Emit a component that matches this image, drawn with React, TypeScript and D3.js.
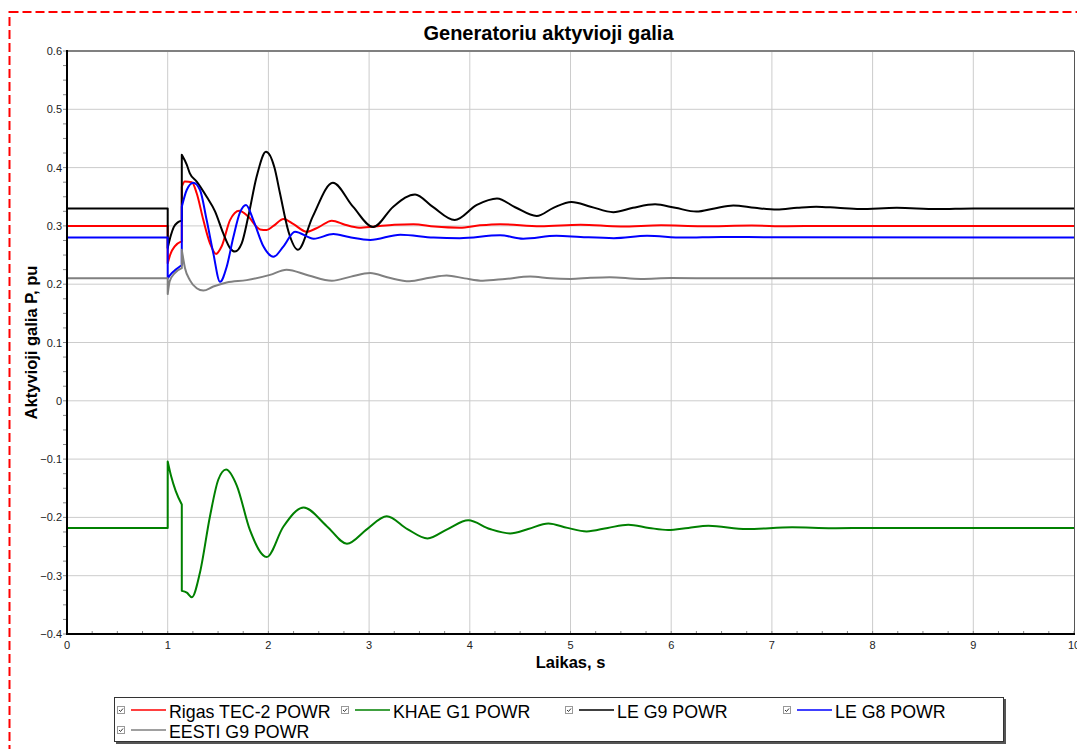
import { useEffect, useRef } from "react";
import * as d3 from "d3";

// [t, P] pairs; a repeated t means a vertical jump
const rigasTec2 = [
  [0, 0.3], [1, 0.3],
  [1, 0.236], [1.03, 0.253], [1.07, 0.265], [1.14, 0.274],
  [1.14, 0.367], [1.17, 0.376], [1.24, 0.375], [1.288, 0.356], [1.354, 0.31], [1.42, 0.27], [1.48, 0.252],
  [1.536, 0.265], [1.619, 0.31], [1.711, 0.326], [1.8, 0.316], [1.917, 0.294], [1.983, 0.293], [2.05, 0.3],
  [2.15, 0.312], [2.25, 0.303], [2.38, 0.29], [2.5, 0.298], [2.63, 0.309], [2.76, 0.302], [2.9, 0.297],
  [3.05, 0.299], [3.25, 0.302], [3.44, 0.303], [3.65, 0.299], [3.9, 0.297], [4.1, 0.301], [4.3, 0.303],
  [4.7, 0.2995], [5.1, 0.302], [5.5, 0.299], [5.9, 0.301], [6.3, 0.2995], [6.8, 0.3005], [7.15, 0.2995],
  [7.5, 0.3], [10, 0.3],
];

const khaeG1 = [
  [0, -0.218], [1, -0.218],
  [1, -0.104], [1.035, -0.13], [1.08, -0.155], [1.14, -0.178],
  [1.14, -0.326], [1.19, -0.329], [1.24, -0.337], [1.32, -0.295], [1.42, -0.198], [1.503, -0.135],
  [1.58, -0.118], [1.685, -0.145], [1.817, -0.222], [1.983, -0.268], [2.148, -0.216], [2.35, -0.183],
  [2.58, -0.215], [2.78, -0.245], [2.98, -0.22], [3.175, -0.198], [3.38, -0.22], [3.58, -0.236],
  [3.78, -0.22], [3.985, -0.205], [4.2, -0.22], [4.4, -0.2275], [4.58, -0.22], [4.78, -0.2103],
  [4.97, -0.218], [5.16, -0.224], [5.37, -0.218], [5.574, -0.2125], [5.78, -0.218], [5.97, -0.2217],
  [6.17, -0.218], [6.37, -0.2144], [6.75, -0.22], [7.2, -0.217], [7.6, -0.2185], [8.0, -0.218], [10, -0.218],
];

const leG9 = [
  [0, 0.33], [1, 0.33],
  [1, 0.262], [1.03, 0.283], [1.06, 0.298], [1.1, 0.306], [1.14, 0.309],
  [1.14, 0.422], [1.189, 0.405], [1.22, 0.39], [1.288, 0.376], [1.387, 0.35], [1.47, 0.325], [1.552, 0.287],
  [1.619, 0.262], [1.668, 0.256], [1.735, 0.27], [1.8, 0.316], [1.884, 0.385], [1.976, 0.427], [2.06, 0.4],
  [2.115, 0.356], [2.2, 0.29], [2.294, 0.259], [2.44, 0.316], [2.64, 0.374], [2.84, 0.333], [3.04, 0.298],
  [3.24, 0.333], [3.456, 0.354], [3.63, 0.333], [3.85, 0.31], [4.07, 0.336], [4.27, 0.347], [4.45, 0.332],
  [4.664, 0.317], [4.83, 0.331], [5.01, 0.341], [5.2, 0.333], [5.425, 0.3235], [5.62, 0.331], [5.84, 0.337],
  [6.04, 0.331], [6.25, 0.3245], [6.43, 0.33], [6.617, 0.335], [6.83, 0.331], [7.05, 0.328], [7.25, 0.331],
  [7.44, 0.333], [7.65, 0.331], [7.875, 0.329], [8.24, 0.331], [8.64, 0.329], [9.0, 0.33], [10, 0.33],
];

const leG8 = [
  [0, 0.28], [1, 0.28],
  [1, 0.21], [1.04, 0.219], [1.08, 0.225], [1.14, 0.233],
  [1.14, 0.333], [1.19, 0.362], [1.254, 0.374], [1.32, 0.362], [1.387, 0.31], [1.453, 0.253], [1.52, 0.204],
  [1.586, 0.23], [1.651, 0.28], [1.718, 0.323], [1.778, 0.336], [1.85, 0.31], [1.95, 0.265], [2.05, 0.247],
  [2.15, 0.265], [2.264, 0.29], [2.45, 0.278], [2.645, 0.286], [2.8, 0.281], [3.01, 0.276], [3.31, 0.285],
  [3.64, 0.28], [3.9, 0.279], [4.3, 0.284], [4.53, 0.278], [4.86, 0.283], [5.1, 0.281], [5.43, 0.279],
  [5.76, 0.283], [6.12, 0.28], [6.5, 0.281], [7, 0.2805], [10, 0.28],
];

const eestiG9 = [
  [0, 0.21], [1, 0.21],
  [1, 0.183], [1.02, 0.205], [1.07, 0.219], [1.14, 0.2275],
  [1.14, 0.259], [1.172, 0.2275], [1.22, 0.207], [1.288, 0.193], [1.354, 0.189], [1.453, 0.196],
  [1.586, 0.203], [1.784, 0.207], [2.016, 0.216], [2.18, 0.225], [2.4, 0.215], [2.63, 0.206], [2.82, 0.213],
  [3.01, 0.219], [3.2, 0.211], [3.4, 0.205], [3.6, 0.211], [3.77, 0.215], [3.95, 0.21], [4.13, 0.206],
  [4.35, 0.209], [4.6, 0.213], [4.8, 0.21], [5.0, 0.209], [5.2, 0.211], [5.39, 0.212], [5.7, 0.209],
  [6.0, 0.2105], [6.5, 0.21], [10, 0.21],
];

const seriesNames = ["Rigas TEC-2 POWR", "KHAE G1 POWR", "LE G9 POWR", "LE G8 POWR", "EESTI G9 POWR"];
const seriesColors = ["#ff0000", "#008000", "#000000", "#0000ff", "#808080"];
const seriesData = [rigasTec2, khaeG1, leG9, leG8, eestiG9];

const xTicks = [0, 1, 2, 3, 4, 5, 6, 7, 8, 9, 10];
const yTicks = [0.6, 0.5, 0.4, 0.3, 0.2, 0.1, 0, -0.1, -0.2, -0.3, -0.4];

const W = 1077, H = 749;
const FONT = "'Liberation Sans', Arial, sans-serif";

export default function App() {
  const svgRef = useRef<SVGSVGElement>(null);

  useEffect(() => {
    const svg = d3.select(svgRef.current);
    svg.selectAll("*").remove();

    const left = 67, right = 1074, top = 51, bottom = 634;
    const x = d3.scaleLinear().domain([0, 10]).range([left, right]);
    const y = d3.scaleLinear().domain([-0.4, 0.6]).range([bottom, top]);

    svg.append("rect").attr("width", W).attr("height", H).attr("fill", "#fff");

    // red dashed frame
    svg.append("rect")
      .attr("x", 9.5).attr("y", 12).attr("width", 1200).attr("height", 900)
      .attr("fill", "none").attr("stroke", "#ff0000").attr("stroke-width", 2)
      .attr("stroke-dasharray", "9,4");

    // grid
    const grid = svg.append("g");
    grid.selectAll("line.vx").data(xTicks.slice(1, -1)).join("line")
      .attr("x1", d => x(d)).attr("x2", d => x(d)).attr("y1", top).attr("y2", bottom)
      .attr("stroke", "#cccccc").attr("stroke-width", 1);
    grid.selectAll("line.hy").data(yTicks.slice(1, -1)).join("line")
      .attr("x1", left).attr("x2", right).attr("y1", d => y(d)).attr("y2", d => y(d))
      .attr("stroke", "#cccccc").attr("stroke-width", 1);

    // frame of plot area
    svg.append("line").attr("x1", left).attr("x2", right).attr("y1", top).attr("y2", top)
      .attr("stroke", "#808080").attr("stroke-width", 2);
    svg.append("line").attr("x1", right + 0.5).attr("x2", right + 0.5).attr("y1", top).attr("y2", bottom)
      .attr("stroke", "#555").attr("stroke-width", 1);

    // minor ticks
    const yMinor = d3.range(-0.4, 0.6001, 0.025);
    svg.append("g").selectAll("line").data(yMinor).join("line")
      .attr("x1", left - 4).attr("x2", left).attr("y1", d => y(d)).attr("y2", d => y(d))
      .attr("stroke", "#888").attr("stroke-width", 1);
    const xMinor = d3.range(0, 10.001, 0.25);
    svg.append("g").selectAll("line").data(xMinor).join("line")
      .attr("x1", d => x(d)).attr("x2", d => x(d)).attr("y1", bottom - 3).attr("y2", bottom)
      .attr("stroke", "#888").attr("stroke-width", 1);

    // series
    const lineGen = d3.line<number[]>().x(d => x(d[0])).y(d => y(d[1])).curve(d3.curveMonotoneX);
    const plot = svg.append("g");
    seriesData.forEach((pts, i) => {
      const segs: number[][][] = [];
      let cur: number[][] = [];
      pts.forEach((p, j) => {
        if (j > 0 && p[0] === pts[j - 1][0]) { segs.push(cur); cur = []; }
        cur.push(p);
      });
      segs.push(cur);
      const d = segs.map((s, k) => { const s2 = lineGen(s) || ""; return k === 0 ? s2 : "L" + s2.slice(1); }).join("");
      plot.append("path").attr("d", d).attr("fill", "none")
        .attr("stroke", seriesColors[i]).attr("stroke-width", 2).attr("stroke-linejoin", "round");
    });

    // axes lines
    svg.append("line").attr("x1", left).attr("x2", left).attr("y1", top - 1).attr("y2", bottom + 1)
      .attr("stroke", "#000").attr("stroke-width", 2);
    svg.append("line").attr("x1", left).attr("x2", right + 1).attr("y1", bottom).attr("y2", bottom)
      .attr("stroke", "#000").attr("stroke-width", 2);

    // tick labels
    svg.append("g").selectAll("text").data(yTicks).join("text")
      .attr("x", left - 5).attr("y", d => y(d) + 4).attr("text-anchor", "end")
      .attr("font-family", FONT).attr("font-size", 11).attr("fill", "#222")
      .text(d => d3.format("")(+d.toFixed(1)));
    svg.append("g").selectAll("text").data(xTicks).join("text")
      .attr("x", d => x(d)).attr("y", bottom + 15).attr("text-anchor", "middle")
      .attr("font-family", FONT).attr("font-size", 11).attr("fill", "#222")
      .text(d => d);

    // titles
    svg.append("text").attr("x", (left + right) / 2 - 22).attr("y", 40).attr("text-anchor", "middle")
      .attr("font-family", FONT).attr("font-size", 20).attr("font-weight", "bold").text("Generatoriu aktyvioji galia");
    svg.append("text").attr("x", (left + right) / 2).attr("y", 668).attr("text-anchor", "middle")
      .attr("font-family", FONT).attr("font-size", 16.5).attr("font-weight", "bold").text("Laikas, s");
    svg.append("text").attr("transform", `translate(37,${(top + bottom) / 2}) rotate(-90)`).attr("text-anchor", "middle")
      .attr("font-family", FONT).attr("font-size", 16.5).attr("font-weight", "bold").text("Aktyvioji galia P, pu");

    // legend
    const lg = svg.append("g");
    lg.append("rect").attr("x", 116).attr("y", 699).attr("width", 890).attr("height", 45).attr("fill", "#555");
    lg.append("rect").attr("x", 114.5).attr("y", 697.5).attr("width", 889).attr("height", 44)
      .attr("fill", "#fff").attr("stroke", "#333").attr("stroke-width", 1);
    const colX = [117, 341, 565, 783];
    seriesNames.forEach((name, i) => {
      const cx = colX[i % 4];
      const cy = 710 + Math.floor(i / 4) * 20;
      const item = lg.append("g");
      item.append("rect").attr("x", cx + 0.5).attr("y", cy - 3.5).attr("width", 7).attr("height", 7)
        .attr("fill", "#fff").attr("stroke", "#999").attr("stroke-width", 1);
      item.append("polyline").attr("points", `${cx + 2},${cy} ${cx + 3.5},${cy + 1.5} ${cx + 6},${cy - 1.5}`)
        .attr("fill", "none").attr("stroke", "#333").attr("stroke-width", 1);
      item.append("line").attr("x1", cx + 14).attr("x2", cx + 49).attr("y1", cy).attr("y2", cy)
        .attr("stroke", seriesColors[i]).attr("stroke-width", 1.5);
      item.append("text").attr("x", cx + 52).attr("y", cy + 7.5)
        .attr("font-family", FONT).attr("font-size", 17.8).attr("fill", "#000").text(name);
    });
  }, []);

  return (
    <svg ref={svgRef} width={W} height={H}
      style={{ position: "absolute", left: 0, top: 0, display: "block" }} />
  );
}
